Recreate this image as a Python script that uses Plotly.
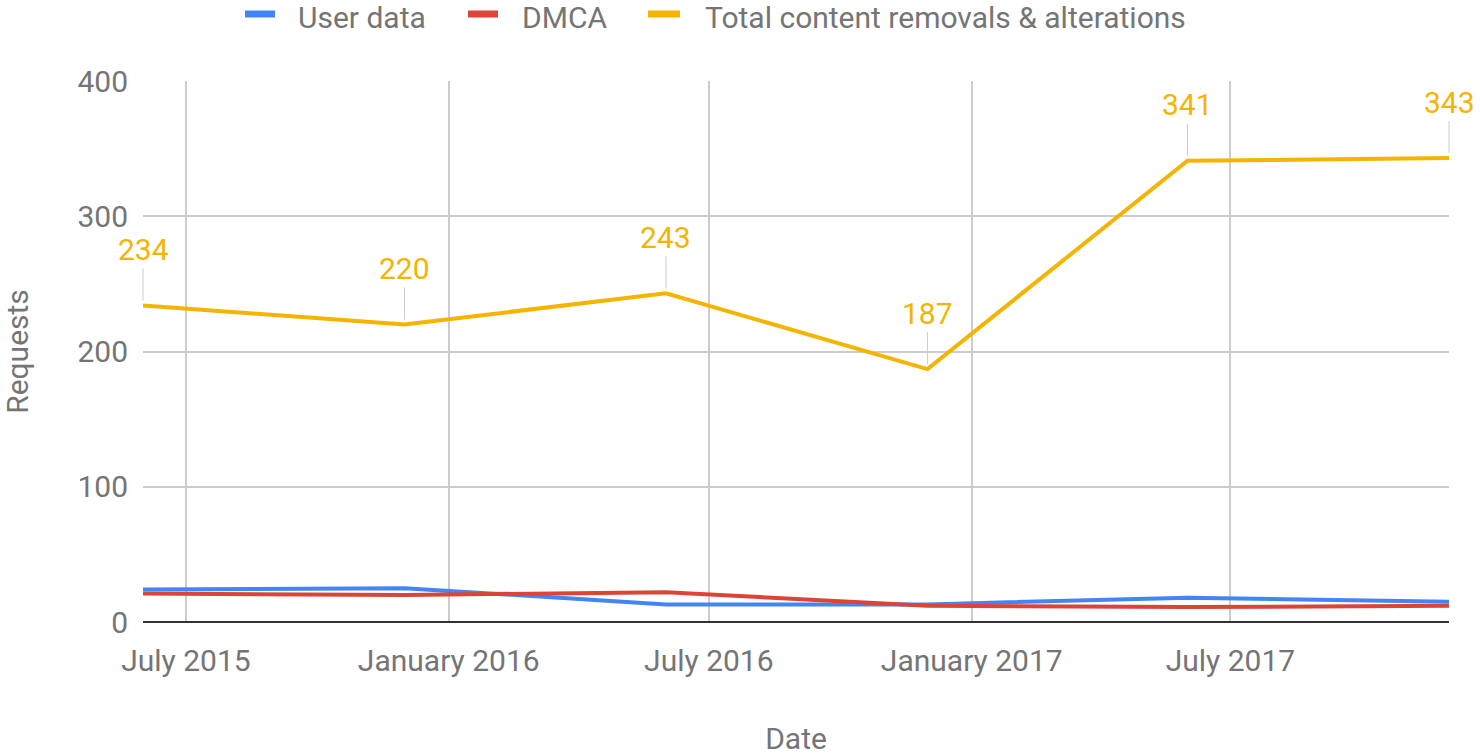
import plotly.graph_objects as go

dates = ["2015-06-01", "2015-12-01", "2016-06-01", "2016-12-01", "2017-06-01", "2017-12-01"]
user_data = [24, 25, 13, 13, 18, 15]
dmca = [21, 20, 22, 12, 11, 12]
total = [234, 220, 243, 187, 341, 343]

tick_dates = ["2015-07-01", "2016-01-01", "2016-07-01", "2017-01-01", "2017-07-01"]
tick_labels = ["July 2015", "January 2016", "July 2016", "January 2017", "July 2017"]
y_ticks = [0, 100, 200, 300, 400]

BLUE = "#4285F4"
RED = "#DB4437"
YELLOW = "#F4B400"
GRAY = "#757575"
FONT = "Roboto"
FS = 30

W, H = 1480, 756
ML, MR, MT, MB = 143, 31, 81, 134
PW, PH = W - ML - MR, H - MT - MB


def px_x(px):
    return (px - ML) / PW


def px_y(py):
    return 1 + (MT - py) / PH


series = [("User data", user_data, BLUE), ("DMCA", dmca, RED),
          ("Total content removals & alterations", total, YELLOW)]
# custom legend layout (swatch left, swatch right, text left) in pixels
legend_pos = [(245, 275, 297), (468, 498, 521), (648, 680, 704)]

fig = go.Figure()
for name, vals, col in series:
    fig.add_trace(go.Scatter(x=dates, y=vals, mode="lines", name=name,
                             line=dict(color=col, width=4), showlegend=False,
                             cliponaxis=False))

for d, v in zip(dates, total):
    fig.add_annotation(x=d, y=v, text=str(v), showarrow=True, arrowhead=0,
                       arrowwidth=1, arrowcolor="#cccccc", ax=0, ay=-56,
                       standoff=5, font=dict(family=FONT, size=FS, color=YELLOW))

for (name, vals, col), (s0, s1, tx) in zip(series, legend_pos):
    fig.add_shape(type="rect", xref="paper", yref="paper",
                  x0=px_x(s0), x1=px_x(s1), y0=px_y(17.5), y1=px_y(10.5),
                  fillcolor=col, line=dict(width=0), layer="above")
    fig.add_annotation(xref="paper", yref="paper", x=px_x(tx), y=px_y(17),
                       xanchor="left", yanchor="middle", text=name, showarrow=False,
                       borderpad=0, font=dict(family=FONT, size=FS, color=GRAY))

fig.update_layout(
    width=W, height=H,
    margin=dict(l=ML, r=MR, t=MT, b=MB, autoexpand=False),
    paper_bgcolor="white", plot_bgcolor="white",
    font=dict(family=FONT, size=FS, color=GRAY),
    showlegend=False,
    xaxis=dict(type="date", range=[dates[0], dates[-1]], tickvals=tick_dates,
               ticktext=tick_labels, showgrid=True, gridcolor="#cccccc", gridwidth=2,
               showline=False, zeroline=False, ticks="", ticklabelstandoff=18,
               tickfont=dict(family=FONT, size=FS, color=GRAY),
               title=dict(text="Date", font=dict(family=FONT, size=FS, color=GRAY), standoff=61)),
    yaxis=dict(range=[0, 400], tickvals=y_ticks, showgrid=True, gridcolor="#cccccc",
               gridwidth=2, zeroline=True, zerolinecolor="#333333", zerolinewidth=2,
               showline=False, ticks="", ticklabelstandoff=14,
               tickfont=dict(family=FONT, size=FS, color=GRAY),
               title=dict(text="Requests", font=dict(family=FONT, size=FS, color=GRAY), standoff=50)),
)

fig.write_html("out.html", config={"displayModeBar": False},
               post_script="document.body.style.margin='0';")
